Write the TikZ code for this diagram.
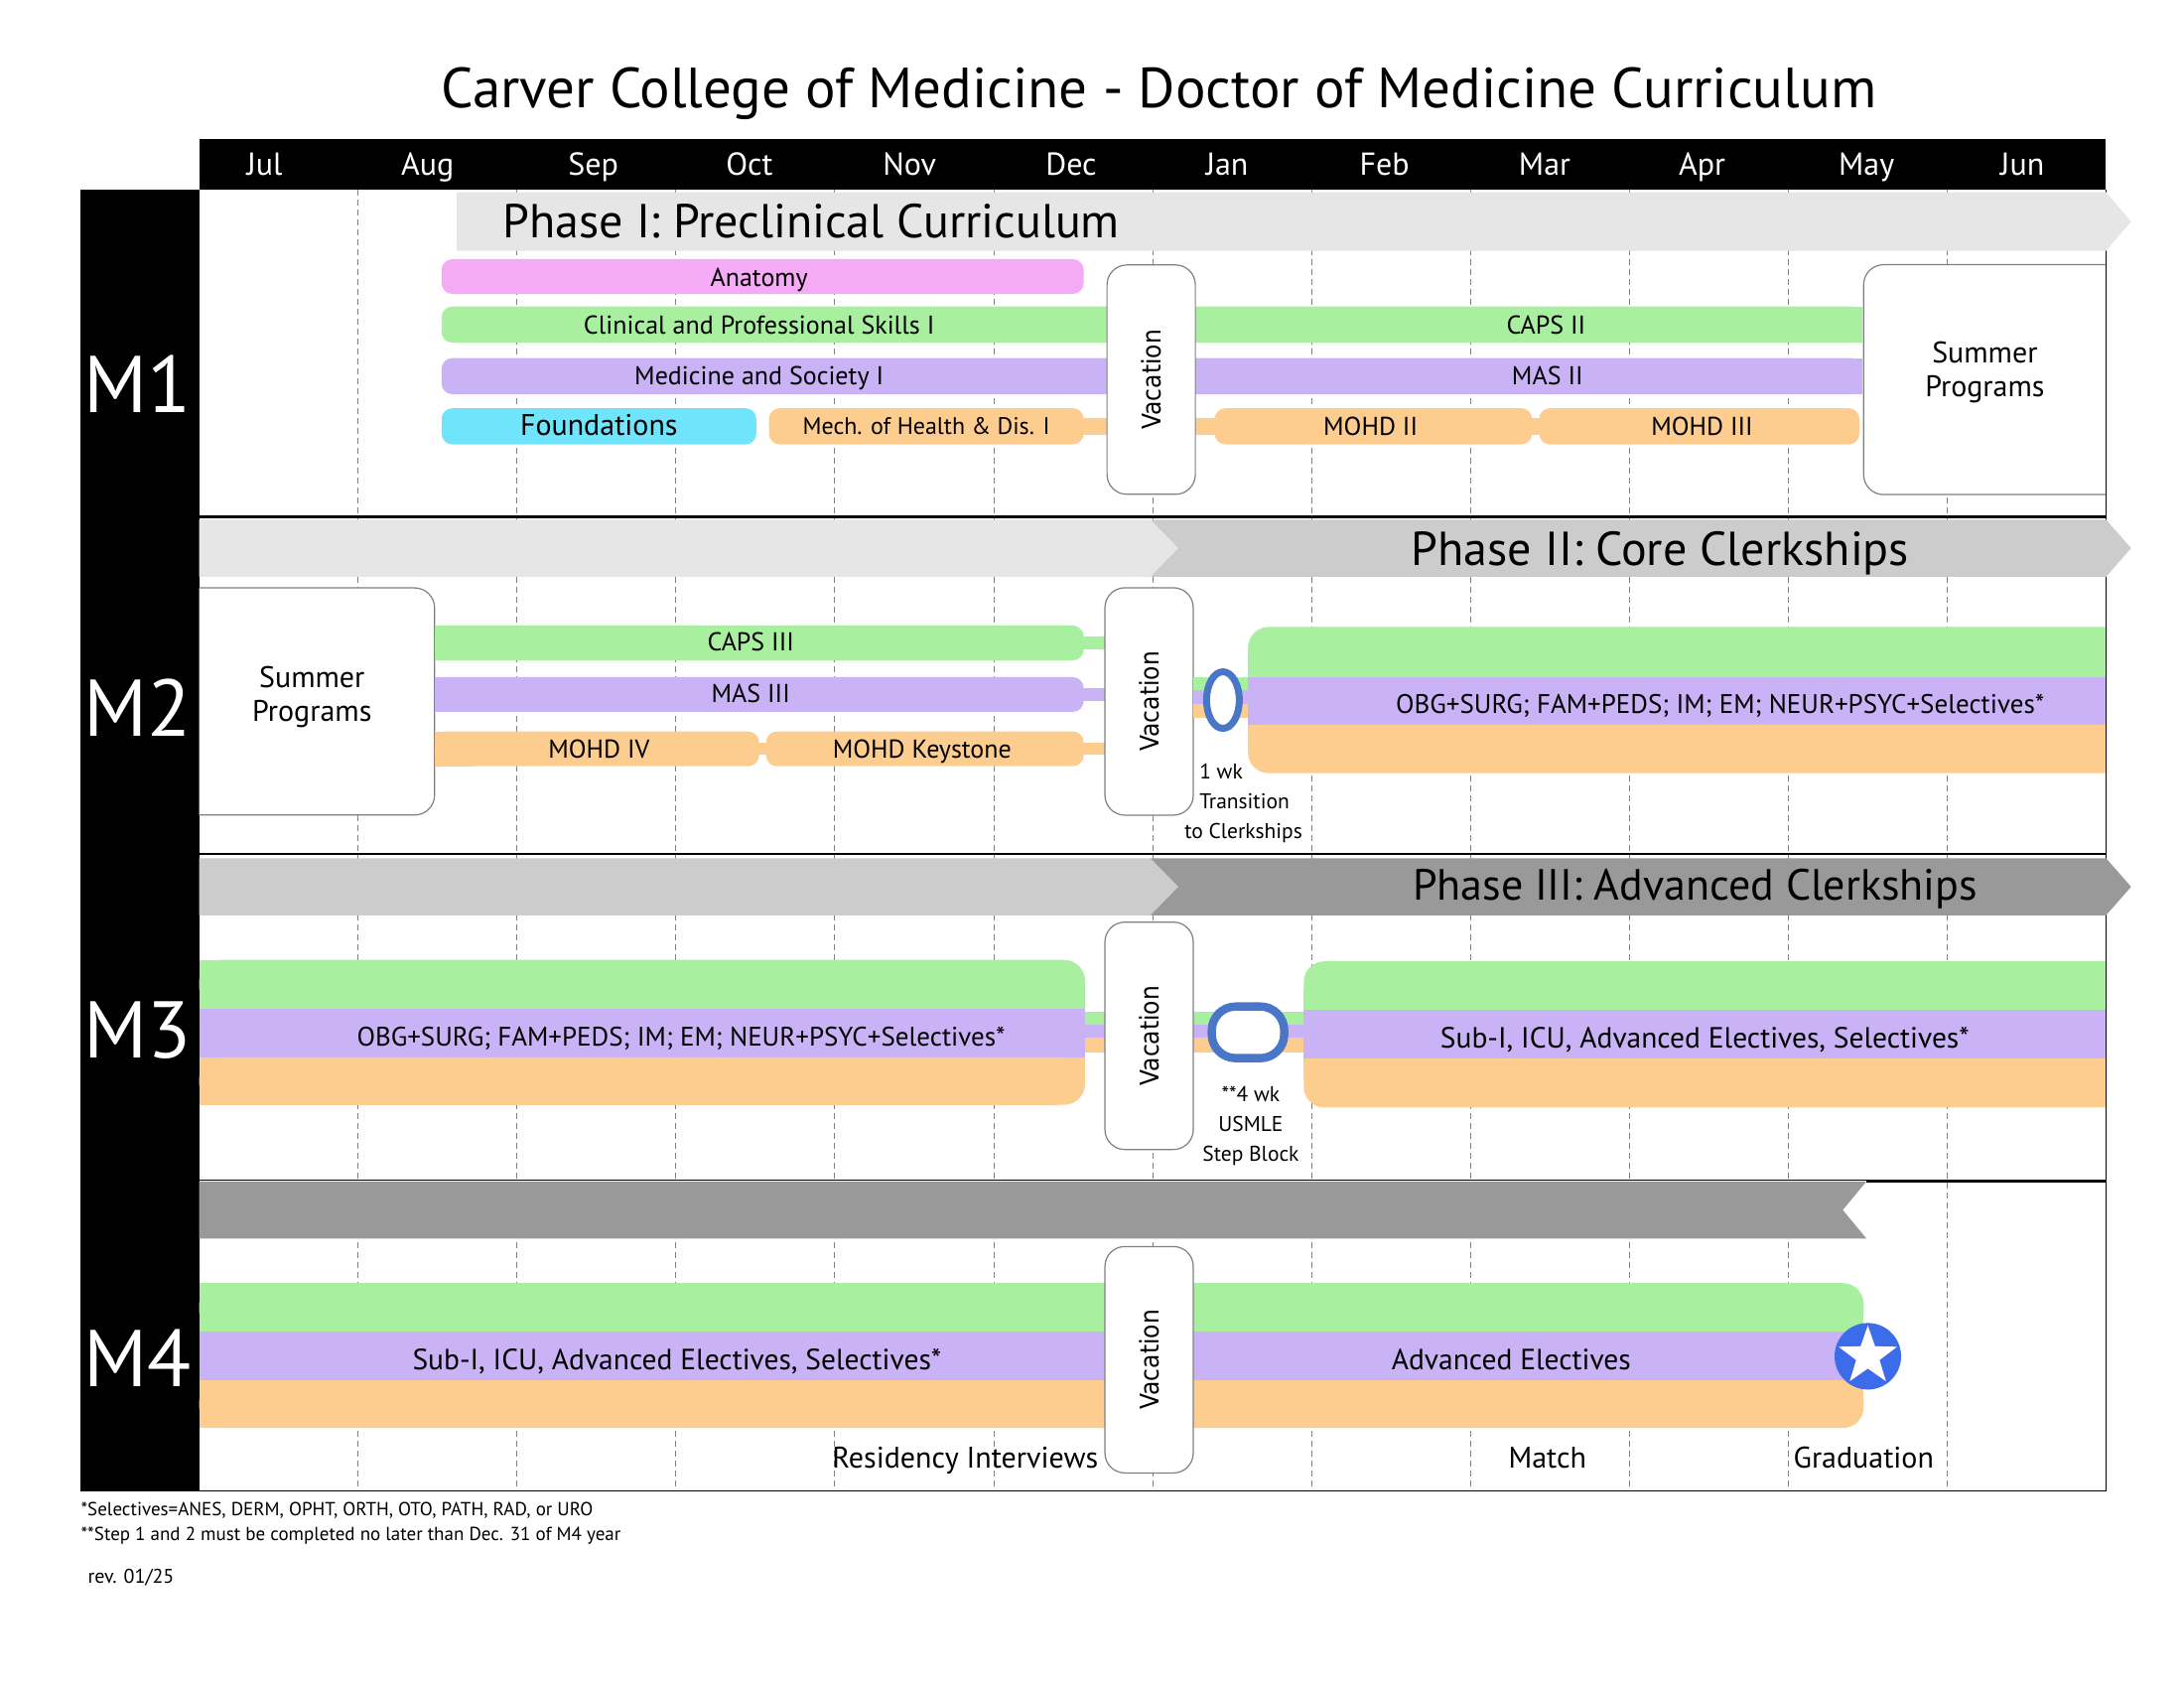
\documentclass[tikz,border=0pt]{standalone}
\usepackage{fontspec}
\usepackage{graphicx}
\setmainfont{PT Sans}
\newfontfamily\vacfont{DejaVu Sans}
\usetikzlibrary{shapes.geometric}
\definecolor{cpink}{HTML}{F5AAF5}
\definecolor{cgreen}{HTML}{A8F0A0}
\definecolor{cpurple}{HTML}{C9B2F5}
\definecolor{corange}{HTML}{FDCD8F}
\definecolor{ccyan}{HTML}{70E4FA}
\definecolor{ringblue}{HTML}{4A76C8}
\definecolor{starblue}{HTML}{3C6CEA}
\definecolor{glight}{HTML}{E6E6E6}
\definecolor{gmid}{HTML}{CCCCCC}
\definecolor{gdark}{HTML}{999999}
\definecolor{vacgray}{HTML}{808080}
\begin{document}
\begin{tikzpicture}[x=1.4031pt,y=-1.4031pt,
  fsz/.style={inner sep=0, font=\fontsize{#1}{#1}\selectfont, text height={0.7*#1pt}, text depth=0pt},
  lbl/.style={fsz=26},
  big/.style={fsz=29.5},
  month/.style={fsz=32, text=white},
  phase/.style={fsz=48},
  year/.style={fsz=81, text=white},
  vacbox/.style={draw=vacgray, line width=1.2pt, fill=white, rounded corners=20pt, rotate=90,
     minimum width=229pt, minimum height=89pt, inner sep=0, font=\vacfont\fontsize{26}{30}\selectfont},
  sumbox/.style={draw=vacgray, line width=1.2pt, fill=white, rounded corners=20pt},
  sumtext/.style={inner sep=0, align=center, font=\fontsize{30}{34}\selectfont},
  small/.style={inner sep=0, font=\fontsize{21.5}{30}\selectfont},
  foot/.style={inner sep=0, anchor=west, font=\fontsize{19}{22}\selectfont},
  gridline/.style={draw=gray, line width=0.8pt, dash pattern=on 6pt off 4pt},
  sep/.style={line width=2.8pt},
  ring/.style={draw=ringblue, fill=white, inner sep=0}
]
% page
\fill[white] (0,0) rectangle (1568,1212);
\useasboundingbox (0,0) rectangle (1568,1212);

% title
\node[inner sep=0, font=\fontsize{57}{66}\selectfont] (title) at (832,67) {Carver College of Medicine - Doctor of Medicine Curriculum};

% header and left column
\fill[black] (143,100) rectangle (1512,136);
\fill[black] (58,136) rectangle (143,1070);

% grid lines
\foreach \i in {1,...,11}{
  \draw[gridline] ({143+114.08*\i},136) -- ({143+114.08*\i},1070);
}

% frame
\draw[line width=1.2pt] (1512,136) -- (1512,1070) -- (58,1070);

% months
\node[month] (mJul) at (190,118) {Jul};
\node[month] (mAug) at (307,118) {Aug};
\node[month] (mSep) at (426,118) {Sep};
\node[month] (mOct) at (538,118) {Oct};
\node[month] (mNov) at (653,118) {Nov};
\node[month] (mDec) at (769,118) {Dec};
\node[month] (mJan) at (881,118) {Jan};
\node[month] (mFeb) at (994,118) {Feb};
\node[month] (mMar) at (1109,118) {Mar};
\node[month] (mApr) at (1222,118) {Apr};
\node[month] (mMay) at (1340,118) {May};
\node[month] (mJun) at (1452,118) {Jun};

% year labels
\node[year] (y1) at (99,276) {M1};
\node[year] (y2) at (99,508) {M2};
\node[year] (y3) at (99,739) {M3};
\node[year] (y4) at (99,975) {M4};

% separators
\draw[sep] (143,371) -- (1512,371);
\draw[sep] (143,613) -- (1512,613);
\draw[line width=1pt] (143,847) -- (1340,847);
\draw[sep] (1340,848) -- (1512,848);

% ===== M1 =====
\fill[glight] (328,138) -- (1512,138) -- (1530,159) -- (1512,180) -- (328,180) -- cycle;
\node[phase, anchor=west] (ph1) at (361,159) {Phase I: Preclinical Curriculum};

\fill[cpink, rounded corners=11pt] (317,186) rectangle (778,211);
\fill[cgreen, rounded corners=11pt] (317,220) rectangle (1337,246);
\fill[cgreen] (1300,220) rectangle (1337,246);
\fill[cpurple, rounded corners=11pt] (317,257) rectangle (1337,283);
\fill[cpurple] (1300,257) rectangle (1337,283);
\fill[corange] (700,300) rectangle (1200,312);
\fill[ccyan, rounded corners=11pt] (317,293) rectangle (543,319);
\fill[corange, rounded corners=11pt] (552,293) rectangle (778,319);
\fill[corange, rounded corners=11pt] (872,293) rectangle (1100,319);
\fill[corange, rounded corners=11pt] (1105,293) rectangle (1335,319);

\node[lbl] (anat) at (545,199) {Anatomy};
\node[lbl] (caps1) at (545,233) {Clinical and Professional Skills I};
\node[lbl] (caps2) at (1110,233) {CAPS II};
\node[lbl] (mas1) at (545,270) {Medicine and Society I};
\node[lbl] (mas2) at (1111,270) {MAS II};
\node[fsz=30] (found) at (430,305) {Foundations};
\node[fsz=24] (mohd1) at (665,306) {Mech. of Health \& Dis. I};
\node[lbl] (mohd2) at (984,306) {MOHD II};
\node[lbl] (mohd3) at (1222,306) {MOHD III};

\node[vacbox, minimum width=231pt] (vac1) at (826.5,272.5) {\scalebox{0.9}[1]{Vacation}};

\begin{scope}
\clip (1300,180) rectangle (1512,365);
\draw[sumbox] (1338,190) rectangle (1560,355);
\end{scope}
\node[sumtext] (sum1) at (1425,267) {Summer\\Programs};

% ===== M2 =====
\fill[glight] (143,373) -- (826,373) -- (846,393.5) -- (826,414) -- (143,414) -- cycle;
\fill[gmid] (826,373) -- (1512,373) -- (1530,393.5) -- (1512,414) -- (826,414) -- (846,393.5) -- cycle;
\node[phase] (ph2) at (1192,394) {Phase II: Core Clerkships};

\begin{scope}
\clip (143,410) rectangle (330,600);
\draw[sumbox] (100,422) rectangle (312,585);
\end{scope}
\node[sumtext] (sum2) at (224,500) {Summer\\Programs};

\fill[cgreen] (700,457) rectangle (795,466);
\fill[cpurple] (700,494) rectangle (795,503);
\fill[corange] (500,533) rectangle (795,542);
\fill[cgreen, rounded corners=11pt] (312,449) rectangle (778,474);
\fill[cgreen] (312,449) rectangle (340,474);
\fill[cpurple, rounded corners=11pt] (312,486) rectangle (778,511);
\fill[cpurple] (312,486) rectangle (340,511);
\fill[corange, rounded corners=11pt] (312,525) rectangle (545,550);
\fill[corange] (312,525) rectangle (340,550);
\fill[corange, rounded corners=11pt] (550,525) rectangle (778,550);

\node[lbl] (caps3) at (539,461) {CAPS III};
\node[lbl] (mas3) at (539,498) {MAS III};
\node[lbl] (mohd4) at (430,538) {MOHD IV};
\node[lbl] (keyst) at (662,538) {MOHD Keystone};

\node[vacbox, minimum width=229pt] (vac2) at (825,503.5) {\scalebox{0.9}[1]{Vacation}};

% transition strips
\fill[cgreen] (857,486) rectangle (905,495);
\fill[cpurple] (857,495) rectangle (905,505);
\fill[corange] (857,505) rectangle (905,515);
\node[ring, ellipse, line width=7pt, minimum width=33pt, minimum height=57pt] (ring1) at (878,502.5) {};

% clerkship block M2
\fill[cgreen, rounded corners=21pt] (896,450) rectangle (1540,486);
\fill[cgreen] (896,470) rectangle (1512,486);
\fill[cpurple] (896,486) rectangle (1512,520);
\fill[corange, rounded corners=21pt] (896,520) rectangle (1540,555);
\fill[corange] (896,520) rectangle (1512,535);
\fill[white] (1512.6,440) rectangle (1540,560);
\node[fsz=27] (clerk2) at (1235,505) {OBG+SURG; FAM+PEDS; IM; EM; NEUR+PSYC+Selectives*};

\node[small, anchor=north west, align=left] (trans) at (861,548) {1 wk\\Transition\\\hspace*{-15pt}to Clerkships};

% ===== M3 =====
\fill[gmid] (143,616) -- (826,616) -- (846,636.5) -- (826,657) -- (143,657) -- cycle;
\fill[gdark] (826,616) -- (1512,616) -- (1530,636.5) -- (1512,657) -- (826,657) -- (846,636.5) -- cycle;
\node[fsz=44] (ph3) at (1217,635) {Phase III: Advanced Clerkships};

\fill[cgreen] (760,726.5) rectangle (950,735.3);
\fill[cpurple] (760,735.3) rectangle (950,744.8);
\fill[corange] (760,744.8) rectangle (950,755.5);

\fill[cgreen, rounded corners=21pt] (143,689) rectangle (779,724);
\fill[cgreen] (143,689) rectangle (760,724);
\fill[cgreen] (143,710) rectangle (779,724);
\fill[cpurple] (143,724) rectangle (779,759);
\fill[corange, rounded corners=21pt] (143,759) rectangle (779,793);
\fill[corange] (143,759) rectangle (760,793);
\fill[corange] (143,759) rectangle (779,775);
\node[fsz=27] (clerk3) at (489,744) {OBG+SURG; FAM+PEDS; IM; EM; NEUR+PSYC+Selectives*};

\node[vacbox, minimum width=229pt] (vac3) at (825,743.5) {\scalebox{0.9}[1]{Vacation}};

\node[ring, line width=8.4pt, rounded corners=24pt, minimum width=73pt, minimum height=52pt] (ring2) at (896,741) {};
\node[small, align=center] (usmle) at (898,808) {**4 wk\\USMLE\\Step Block};

\fill[cgreen, rounded corners=21pt] (936,690) rectangle (1540,725);
\fill[cgreen] (936,710) rectangle (1512,725);
\fill[cpurple] (936,725) rectangle (1512,760);
\fill[corange, rounded corners=21pt] (936,760) rectangle (1540,795);
\fill[corange] (936,760) rectangle (1512,775);
\fill[white] (1512.6,680) rectangle (1540,800);
\node[big] (subi3) at (1224,745) {Sub-I, ICU, Advanced Electives, Selectives*};

% ===== M4 =====
\fill[gdark] (143,848) -- (1340,848) -- (1323,868.5) -- (1340,889) -- (143,889) -- cycle;

\fill[cgreen, rounded corners=21pt] (143,921) rectangle (1338,956);
\fill[cgreen] (143,921) rectangle (1310,956);
\fill[cgreen] (143,940) rectangle (1338,956);
\fill[cpurple] (143,956) rectangle (1338,991);
\fill[corange, rounded corners=21pt] (143,991) rectangle (1338,1025);
\fill[corange] (143,991) rectangle (1310,1025);
\fill[corange] (143,991) rectangle (1338,1008);
\node[big] (subi4) at (486,976) {Sub-I, ICU, Advanced Electives, Selectives*};
\node[big] (adv4) at (1085,976) {Advanced Electives};

\node[vacbox, minimum width=228pt] (vac4) at (825,976) {\scalebox{0.9}[1]{Vacation}};

\node[circle, fill=starblue, minimum size=67pt, inner sep=0] (grad) at (1341,973.5) {};
\node[star, star points=5, star point ratio=2.5, fill=white, minimum size=62pt, inner sep=0] (gstar) at (grad.center) {};

\node[fsz=30] (resid) at (693,1046) {Residency Interviews};
\node[fsz=30] (match) at (1111,1046) {Match};
\node[fsz=30] (gradt) at (1338,1046) {Graduation};

% frame right edge on top
\draw[line width=1.2pt] (1512,180) -- (1512,373);
\draw[line width=1.2pt] (1512,414) -- (1512,616);
\draw[line width=1.2pt] (1512,657) -- (1512,1070);

% footer
\node[foot] (f1) at (58,1084) {*Selectives=ANES, DERM, OPHT, ORTH, OTO, PATH, RAD, or URO};
\node[foot] (f2) at (58,1102) {**Step 1 and 2 must be completed no later than Dec. 31 of M4 year};
\node[foot, font=\fontsize{20}{24}\selectfont] (rev) at (63,1132) {rev. 01/25};
\end{tikzpicture}
\end{document}
